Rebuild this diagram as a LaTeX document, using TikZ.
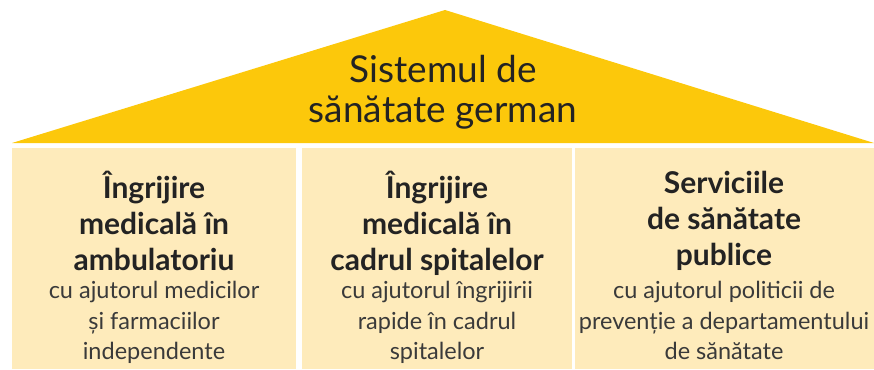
\documentclass[tikz,border=0pt]{standalone}
\usepackage{fontspec}
\setmainfont{Lato}
\usepackage{tikz}
\definecolor{roof}{HTML}{FCC80B}
\definecolor{wall}{HTML}{FEEBBB}
\definecolor{ink}{HTML}{232323}
\definecolor{softink}{HTML}{3A3A3A}

\begin{document}
\begin{tikzpicture}[x=1pt, y=-1pt,
		head/.style={anchor=north, inner sep=0pt, align=center, text=ink, font=\bfseries\fontsize{30}{36}\selectfont},
		sub/.style={anchor=north, inner sep=0pt, align=center, text=softink, font=\fontsize{23.5}{30.5}\selectfont}]
		%%%%% START %%%%%
		
		\useasboundingbox (0, 0) rectangle (874, 369);
		
		\fill[roof] (12, 143) -- (445, 10) -- (874, 143) -- cycle;
		\node[inner sep=0pt, align=center, text=ink, font=\fontsize{37}{40}\selectfont] (title) at (443, 92) {Sistemul de\\ sănătate german};
		
		\fill[wall] (12, 148) rectangle (296, 369);
		\fill[wall] (302, 148) rectangle (572, 369);
		\fill[wall] (575, 148) rectangle (874, 369);
		
		\node[head] (headA) at (154, 171) {Îngrijire\\ medicală în\\ ambulatoriu};
		\node[sub] (subA) at (154, 281) {cu ajutorul medicilor\\ și farmaciilor\\ independente};
		
		\node[head] (headB) at (437, 171) {Îngrijire\\ medicală în\\ cadrul spitalelor};
		\node[sub] (subB) at (437, 281) {cu ajutorul îngrijirii\\ rapide în cadrul\\ spitalelor};
		
		\node[head] (headC) at (724, 171) {Serviciile\\ de sănătate\\ publice};
		\node[sub] (subC) at (724, 281) {cu ajutorul politicii de\\ prevenție a departamentului\\ de sănătate};
		
		%%%%% END %%%%%
\end{tikzpicture}
\end{document}
